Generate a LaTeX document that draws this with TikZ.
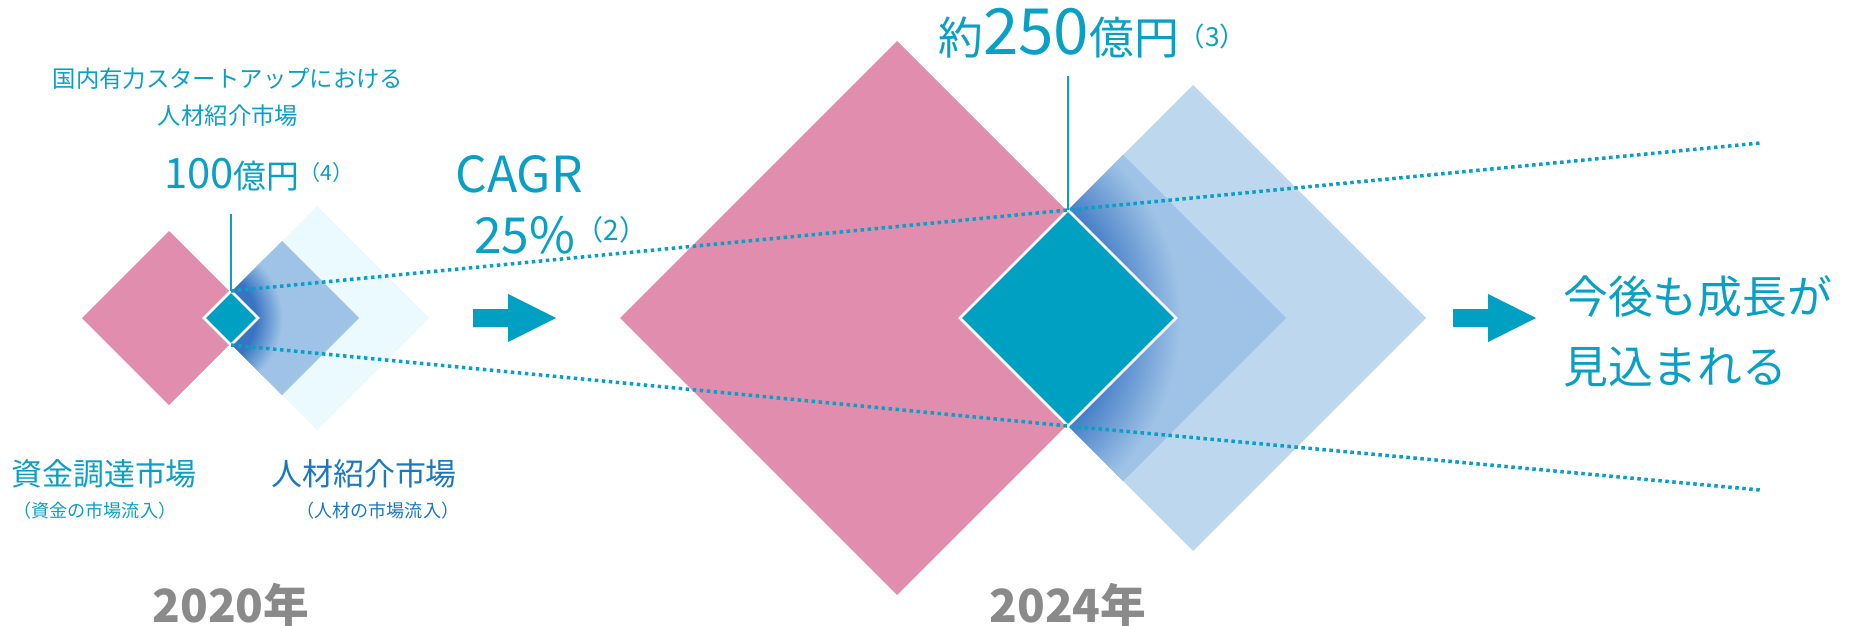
\documentclass[tikz,border=0pt]{standalone}
\usepackage{fontspec}
\setmainfont{Noto Sans CJK JP}
\usetikzlibrary{shapes.geometric,positioning}

\definecolor{fundpink}{HTML}{E08DAE}
\definecolor{coreteal}{HTML}{00A0C2}
\definecolor{talentblue}{HTML}{9FC3E6}
\definecolor{outercyan}{HTML}{EAFAFE}
\definecolor{outerblue}{HTML}{BDD7EE}
\definecolor{glowblue}{HTML}{3874C2}
\definecolor{labelteal}{HTML}{0AA0C6}
\definecolor{labelblue}{HTML}{1A78C2}
\definecolor{yeargray}{HTML}{8A8A8A}

\pgfdeclareradialshading{glow}{\pgfpoint{0bp}{0bp}}{color(0bp)=(glowblue); color(15bp)=(glowblue); color(23bp)=(talentblue); color(50bp)=(talentblue)}

\newcommand{\pxu}{0.02cm}
\newcommand{\fsz}[1]{\fontsize{#1pt}{#1pt}\selectfont}

\begin{document}
\begin{tikzpicture}[x=0.02cm, y=-0.02cm,
    dia/.style={diamond, inner sep=0pt, outer sep=0pt, minimum size=#1*\pxu},
    core/.style={dia=#1, fill=coreteal, draw=white, line width=1.5pt},
    dotline/.style={labelteal, line width=2pt, dash pattern=on 2pt off 2pt},
    lbl/.style={text=labelteal, inner sep=0pt},
    yr/.style={text=yeargray, inner sep=0pt, anchor=base, font=\fsz{26}\bfseries}]
  \useasboundingbox (0,0) rectangle (1851,625);

  % 2020
  \node[dia=174, fill=fundpink] (fund20) at (169,318) {};
  \node[dia=224, fill=outercyan] (outer20) at (317,318) {};
  \node[dia=154, fill=talentblue] (talent20) at (282,318) {};
  \begin{scope}
    \clip (talent20.west) -- (talent20.north) -- (talent20.east) -- (talent20.south) -- cycle;
    \shade[shading=glow] (talent20.west) circle[radius=84*\pxu];
  \end{scope}
  \node[core=54] (core20) at (231,318) {};

  % 2024
  \node[dia=554, fill=fundpink] (fund24) at (897,318) {};
  \node[dia=466, fill=outerblue] (outer24) at (1193,318) {};
  \node[dia=326, fill=talentblue] (talent24) at (1123,318) {};
  \begin{scope}
    \clip (talent24.west) -- (talent24.north) -- (talent24.east) -- (talent24.south) -- cycle;
    \shade[shading=glow] (talent24.west) circle[radius=240*\pxu];
  \end{scope}
  \node[core=216] (core24) at (1068,318) {};

  % arrows
  \foreach \ax in {473,1453}
    \fill[coreteal] (\ax,309) -- ++(35,0) -- ++(0,-15) -- ++(48,24) -- ++(-48,24) -- ++(0,-15) -- ++(-35,0) -- cycle;

  % leaders
  \coordinate (tag20) at (231,214);
  \coordinate (tag24) at (1068,76);
  \coordinate (topend) at (1760,143);
  \coordinate (lowend) at (1760,490);
  \draw[labelteal, line width=1.2pt] (tag20) -- (core20.north);
  \draw[labelteal, line width=1.2pt] (tag24) -- (core24.north);
  \draw[dotline] (core20.north) -- (core24.north) -- (topend);
  \draw[dotline] (core20.south) -- (core24.south) -- (lowend);

  % labels
  \node[lbl, font=\fsz{13.3}] (head20) at (228,79) {国内有力スタートアップにおける};
  \node[lbl, font=\fsz{13.3}] (head20b) at (228,116) {人材紹介市場};
  \node[lbl, anchor=base west] (val20) at (164,188) {\fsz{23.8}100\fsz{18.7}億円\fsz{12}\raisebox{4pt}{（4）}};
  \node[lbl, anchor=base west, font=\fsz{28.3}] (cagr) at (455,192) {CAGR};
  \node[lbl, anchor=base west] (rate) at (474,253) {\fsz{28.3}25\%\fsz{16}\raisebox{7pt}{（2）}};
  \node[lbl, anchor=base west] (val24) at (938,55) {\fsz{25.5}約\fsz{36.3}250\fsz{25.5}億円\fsz{15}\raisebox{5pt}{（3）}};
  \node[lbl, anchor=base west, font=\fsz{25.5}] (grow1) at (1563,313) {今後も成長が};
  \node[lbl, anchor=base west, font=\fsz{25.5}] (grow2) at (1563,383) {見込まれる};

  \node[lbl, anchor=base west, font=\fsz{17.6}] (fundlbl) at (11,485) {資金調達市場};
  \node[lbl, anchor=base west, font=\fsz{10.3}] (fundsub) at (13,517) {（資金の市場流入）};
  \node[lbl, text=labelblue, anchor=base west, font=\fsz{17.6}] (talentlbl) at (271,485) {人材紹介市場};
  \node[lbl, text=labelblue, anchor=base west, font=\fsz{10.3}] (talentsub) at (296,517) {（人材の市場流入）};

  \node[yr] (year20) at (231,622) {2020年};
  \node[yr] (year24) at (1068,622) {2024年};
\end{tikzpicture}
\end{document}
